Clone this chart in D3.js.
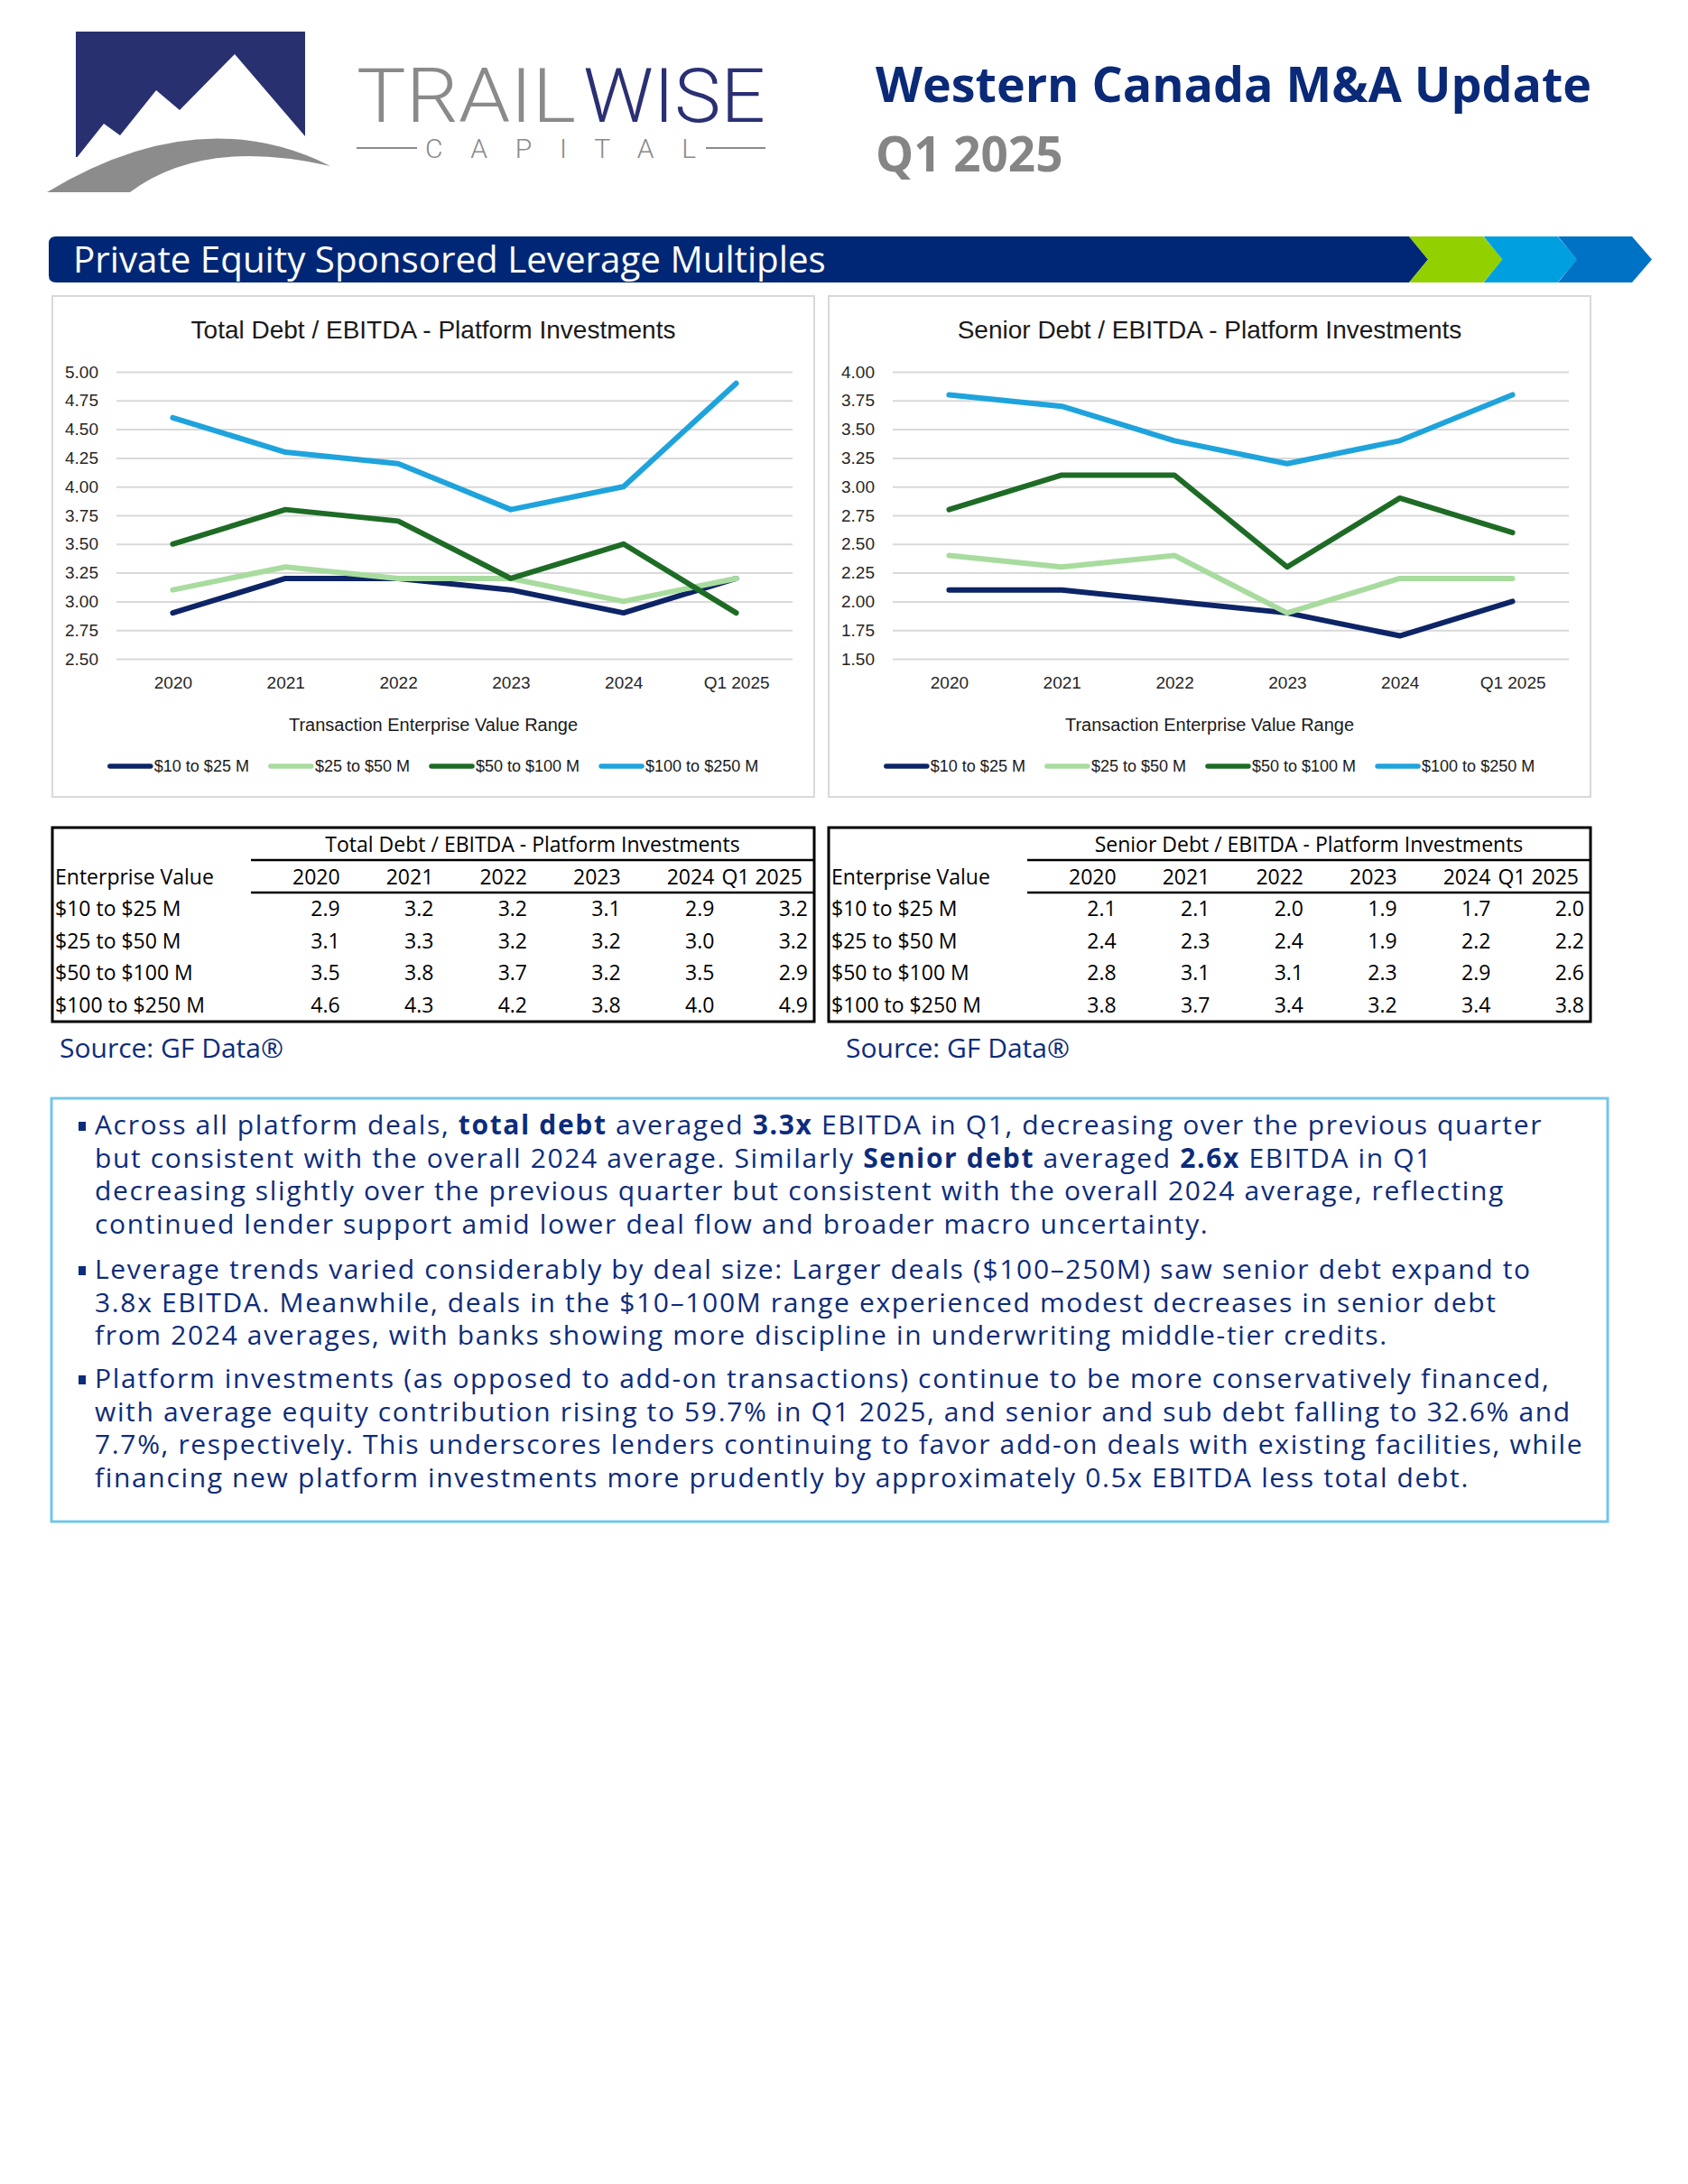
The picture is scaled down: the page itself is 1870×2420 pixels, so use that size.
<!DOCTYPE html>
<html>
<head>
<meta charset="utf-8">
<script src="https://cdn.jsdelivr.net/npm/d3@7"></script>
<style>
  body { margin: 0; background: #fff; }
  svg { display: block; }
</style>
</head>
<body>
<svg id="page" width="1870" height="2420"></svg>
<script>
const years = ['2020', '2021', '2022', '2023', '2024', 'Q1 2025'];
const ranges = ['$10 to $25 M', '$25 to $50 M', '$50 to $100 M', '$100 to $250 M'];
const seriesColors = ['#0d2466', '#a8dc9e', '#1e6b26', '#1fa3dc'];

// Total Debt / EBITDA, one row per EV range
const total10to25 = [2.9, 3.2, 3.2, 3.1, 2.9, 3.2];
const total25to50 = [3.1, 3.3, 3.2, 3.2, 3.0, 3.2];
const total50to100 = [3.5, 3.8, 3.7, 3.2, 3.5, 2.9];
const total100to250 = [4.6, 4.3, 4.2, 3.8, 4.0, 4.9];

// Senior Debt / EBITDA
const senior10to25 = [2.1, 2.1, 2.0, 1.9, 1.7, 2.0];
const senior25to50 = [2.4, 2.3, 2.4, 1.9, 2.2, 2.2];
const senior50to100 = [2.8, 3.1, 3.1, 2.3, 2.9, 2.6];
const senior100to250 = [3.8, 3.7, 3.4, 3.2, 3.4, 3.8];

const totalTicks = [2.50, 2.75, 3.00, 3.25, 3.50, 3.75, 4.00, 4.25, 4.50, 4.75, 5.00];
const seniorTicks = [1.50, 1.75, 2.00, 2.25, 2.50, 2.75, 3.00, 3.25, 3.50, 3.75, 4.00];

const navyText = '#0c2c7c';
const chartFont = '"Liberation Sans", Arial, sans-serif';
const bodyFont = '"Open Sans", "Noto Sans", sans-serif';

const svg = d3.select('#page');
svg.append('rect').attr('width', 1870).attr('height', 2420).attr('fill', '#fff');

// ---- logo ----
const logo = svg.append('g');
logo.append('rect').attr('x', 84).attr('y', 35).attr('width', 254).attr('height', 139).attr('fill', '#28306f');
logo.append('polygon')
    .attr('points', '84,176 115,137 133,150 173,100 199,122 260,60 338,151 338,180 84,180')
    .attr('fill', '#fff');
logo.append('path')
    .attr('d', 'M52,213 Q221,111 366,184 Q225,152 144,213 Z')
    .attr('fill', '#8c8c8c');

logo.append('text')
    .attr('x', 395).attr('y', 135)
    .attr('font-family', 'Roboto, sans-serif').attr('font-weight', 300)
    .attr('font-size', 84).attr('fill', '#8a8a8a')
    .attr('textLength', 243).attr('lengthAdjust', 'spacingAndGlyphs')
    .text('TRAIL');
logo.append('text')
    .attr('x', 646).attr('y', 135)
    .attr('font-family', 'Roboto, sans-serif').attr('font-weight', 300)
    .attr('font-size', 84).attr('fill', '#2b2f73')
    .attr('textLength', 202).attr('lengthAdjust', 'spacingAndGlyphs')
    .text('WISE');

logo.append('line').attr('x1', 395).attr('x2', 462).attr('y1', 164).attr('y2', 164).attr('stroke', '#8a8a8a').attr('stroke-width', 2);
logo.append('line').attr('x1', 782).attr('x2', 848).attr('y1', 164).attr('y2', 164).attr('stroke', '#8a8a8a').attr('stroke-width', 2);
logo.append('text')
    .attr('x', 471).attr('y', 175)
    .attr('font-family', 'Roboto, sans-serif').attr('font-weight', 300)
    .attr('font-size', 30).attr('fill', '#8a8a8a')
    .attr('textLength', 300).attr('lengthAdjust', 'spacing')
    .text('CAPITAL');

// ---- heading ----
svg.append('text')
    .attr('x', 970).attr('y', 113)
    .attr('font-family', bodyFont).attr('font-weight', 700).attr('font-size', 53.8)
    .attr('fill', '#0a2a78')
    .text('Western Canada M&A Update');
svg.append('text')
    .attr('x', 970).attr('y', 190)
    .attr('font-family', bodyFont).attr('font-weight', 700).attr('font-size', 53)
    .attr('fill', '#858585')
    .text('Q1 2025');

// ---- section banner ----
svg.append('path')
    .attr('d', 'M62,262 H1561 L1582,287.5 L1561,313 H62 Q54,313 54,305 V270 Q54,262 62,262 Z')
    .attr('fill', '#002776');
['#93d000', '#00a0e0', '#0072c6'].forEach((c, i) => {
    const l = 1561 + i * 82.5;
    svg.append('path')
        .attr('d', `M${l},262 H${l + 82} L${l + 104},287.5 L${l + 82},313 H${l} L${l + 21},287.5 Z`)
        .attr('fill', c);
});
svg.append('text')
    .attr('x', 81).attr('y', 302)
    .attr('font-family', bodyFont).attr('font-size', 40.3).attr('fill', '#fff')
    .text('Private Equity Sponsored Leverage Multiples');

// ---- line charts ----
function drawChart(x0, title, series, ticks) {
    const g = svg.append('g').attr('transform', `translate(${x0},0)`);
    g.append('rect')
        .attr('x', 0).attr('y', 328).attr('width', 844).attr('height', 555)
        .attr('fill', '#fff').attr('stroke', '#d9d9d9').attr('stroke-width', 2);

    const x = d3.scalePoint().domain(years).range([71, 820]).padding(0.5);
    const y = d3.scaleLinear().domain([ticks[0], ticks[ticks.length - 1]]).range([730, 412]);

    g.append('text')
        .attr('x', 422).attr('y', 375).attr('text-anchor', 'middle')
        .attr('font-family', chartFont).attr('font-size', 28).attr('fill', '#1a1a1a')
        .text(title);

    const yAxis = g.append('g')
        .attr('transform', 'translate(71,0)')
        .call(d3.axisLeft(y).tickValues(ticks).tickFormat(d3.format('.2f')).tickSize(-749).tickPadding(20));
    yAxis.select('.domain').remove();
    yAxis.selectAll('.tick line').attr('stroke', '#d9d9d9').attr('stroke-width', 2);
    yAxis.selectAll('.tick text')
        .attr('font-family', chartFont).attr('font-size', 19).attr('fill', '#262626');

    const xAxis = g.append('g')
        .attr('transform', 'translate(0,730)')
        .call(d3.axisBottom(x).tickSize(0).tickPadding(20));
    xAxis.select('.domain').remove();
    xAxis.selectAll('.tick text')
        .attr('font-family', chartFont).attr('font-size', 19).attr('fill', '#262626');

    const line = d3.line().x((d, i) => x(years[i])).y(d => y(d));
    series.forEach((vals, i) => {
        g.append('path')
            .attr('d', line(vals))
            .attr('fill', 'none')
            .attr('stroke', seriesColors[i])
            .attr('stroke-width', 6)
            .attr('stroke-linejoin', 'round')
            .attr('stroke-linecap', 'round');
    });

    g.append('text')
        .attr('x', 422).attr('y', 810).attr('text-anchor', 'middle')
        .attr('font-family', chartFont).attr('font-size', 20).attr('fill', '#1a1a1a')
        .text('Transaction Enterprise Value Range');

    // legend, centred under the plot
    const legend = g.append('g');
    let lx = 0;
    ranges.forEach((name, i) => {
        const item = legend.append('g').attr('transform', `translate(${lx},849)`);
        item.append('line')
            .attr('x1', 2).attr('x2', 47)
            .attr('stroke', seriesColors[i]).attr('stroke-width', 5.5).attr('stroke-linecap', 'round');
        const t = item.append('text')
            .attr('x', 51).attr('dy', '0.35em')
            .attr('font-family', chartFont).attr('font-size', 18).attr('fill', '#1a1a1a')
            .text(name);
        lx += 51 + t.node().getComputedTextLength() + 22;
    });
    legend.attr('transform', `translate(${422 - (lx - 22) / 2},0)`);
}

drawChart(58, 'Total Debt / EBITDA - Platform Investments',
    [total10to25, total25to50, total50to100, total100to250], totalTicks);
drawChart(918, 'Senior Debt / EBITDA - Platform Investments',
    [senior10to25, senior25to50, senior50to100, senior100to250], seniorTicks);

// ---- data tables ----
function drawTable(x0, title, series, sourceX) {
    const g = svg.append('g');
    const col = d3.scaleBand().domain(years).range([x0 + 220, x0 + 842]);
    const rowY = d3.scalePoint().domain(ranges).range([1007, 1114]);
    const fmt = d3.format('.1f');

    g.append('rect')
        .attr('x', x0).attr('y', 917).attr('width', 844).attr('height', 215)
        .attr('fill', 'none').attr('stroke', '#000').attr('stroke-width', 3);
    [953, 989].forEach(yy => {
        g.append('line')
            .attr('x1', x0 + 220).attr('x2', x0 + 844).attr('y1', yy).attr('y2', yy)
            .attr('stroke', '#000').attr('stroke-width', 2.5);
    });

    const txt = (x, y, s, anchor) => g.append('text')
        .attr('x', x).attr('y', y).attr('text-anchor', anchor || 'start')
        .attr('font-family', bodyFont).attr('font-size', 23).attr('fill', '#000')
        .text(s);

    txt(x0 + 532, 944, title, 'middle');
    txt(x0 + 3, 980, 'Enterprise Value');
    // the last header sits a little in from the column edge
    years.forEach((yr, i) => txt(col(yr) + col.bandwidth() - (i === years.length - 1 ? 11 : 5), 980, yr, 'end'));

    ranges.forEach((name, r) => {
        txt(x0 + 3, rowY(name) + 8, name);
        series[r].forEach((v, i) => txt(col(years[i]) + col.bandwidth() - 5, rowY(name) + 8, fmt(v), 'end'));
    });

    g.append('text')
        .attr('x', sourceX).attr('y', 1172)
        .attr('font-family', bodyFont).attr('font-size', 30).attr('fill', navyText)
        .text('Source: GF Data®');
}

drawTable(58, 'Total Debt / EBITDA - Platform Investments',
    [total10to25, total25to50, total50to100, total100to250], 66);
drawTable(918, 'Senior Debt / EBITDA - Platform Investments',
    [senior10to25, senior25to50, senior50to100, senior100to250], 937);

// ---- commentary box ----
svg.append('rect')
    .attr('x', 57).attr('y', 1217).attr('width', 1724).attr('height', 469)
    .attr('fill', 'none').attr('stroke', '#74c6e9').attr('stroke-width', 3);

const bullets = [
    [
        [['Across all platform deals, '], ['total debt', 1], [' averaged '], ['3.3x', 1], [' EBITDA in Q1, decreasing over the previous quarter']],
        [['but consistent with the overall 2024 average. Similarly '], ['Senior debt', 1], [' averaged '], ['2.6x', 1], [' EBITDA in Q1']],
        [['decreasing slightly over the previous quarter but consistent with the overall 2024 average, reflecting']],
        [['continued lender support amid lower deal flow and broader macro uncertainty.']]
    ],
    [
        [['Leverage trends varied considerably by deal size: Larger deals ($100\u2013250M) saw senior debt expand to']],
        [['3.8x EBITDA. Meanwhile, deals in the $10\u2013100M range experienced modest decreases in senior debt']],
        [['from 2024 averages, with banks showing more discipline in underwriting middle-tier credits.']]
    ],
    [
        [['Platform investments (as opposed to add-on transactions) continue to be more conservatively financed,']],
        [['with average equity contribution rising to 59.7% in Q1 2025, and senior and sub debt falling to 32.6% and']],
        [['7.7%, respectively. This underscores lenders continuing to favor add-on deals with existing facilities, while']],
        [['financing new platform investments more prudently by approximately 0.5x EBITDA less total debt.']]
    ]
];
const bulletTop = [1247, 1407, 1528];
const lineStep = 36.5;

bullets.forEach((lines, b) => {
    svg.append('rect')
        .attr('x', 87).attr('y', bulletTop[b] - 4).attr('width', 8).attr('height', 10)
        .attr('fill', navyText);
    lines.forEach((segs, li) => {
        const t = svg.append('text')
            .attr('x', 105).attr('y', bulletTop[b] + li * lineStep + 10)
            .attr('font-family', bodyFont).attr('font-size', 30)
            .attr('letter-spacing', 1.65).attr('fill', navyText);
        segs.forEach(s => {
            t.append('tspan').attr('font-weight', s[1] ? 700 : 400).text(s[0]);
        });
    });
});
</script>
</body>
</html>
